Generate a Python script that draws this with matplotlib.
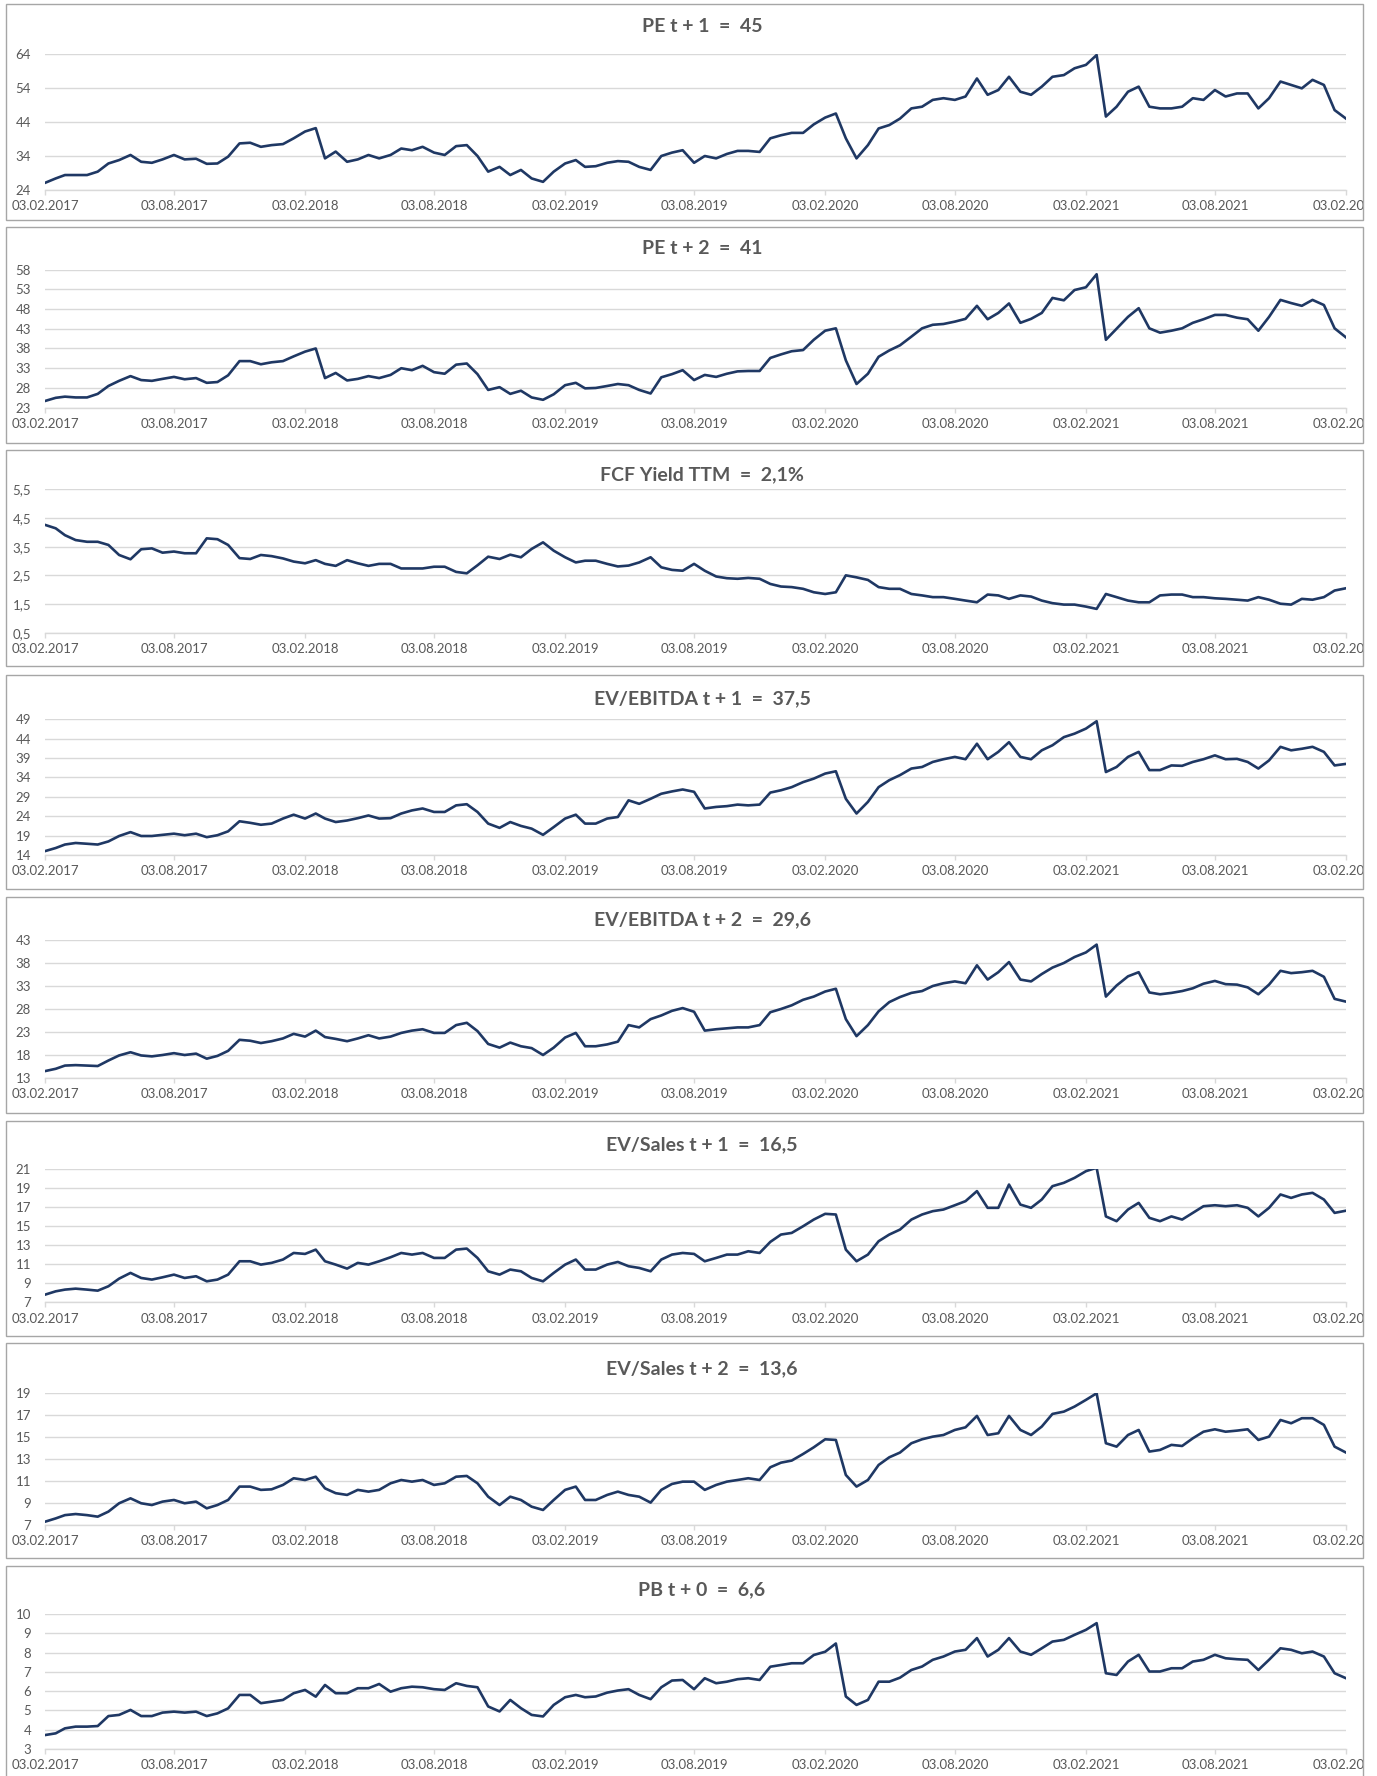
import matplotlib
matplotlib.use('Agg')
import matplotlib.pyplot as plt
from matplotlib.patches import Rectangle
from matplotlib.ticker import FixedLocator, FuncFormatter
import matplotlib.dates as mdates
import numpy as np
import pandas as pd

plt.rcParams['font.family'] = ['Lato', 'DejaVu Sans']

W, H = 1377, 1776

# semi-monthly observation dates, 03.02.2017 .. 03.02.2022
month_starts = pd.date_range('2017-02-03', periods=61, freq=pd.DateOffset(months=1))
dates = []
for d in month_starts:
    dates.append(d)
    dates.append(d + pd.Timedelta(days=15))
dates = dates[:121]

pe_t1 = [26.1, 27.4, 28.4, 28.4, 28.4, 29.4, 31.8, 32.8, 34.3, 32.3,
         32.0, 33.0, 34.3, 33.0, 33.2, 31.7, 31.8, 33.8, 37.7, 37.9,
         36.7, 37.2, 37.5, 39.2, 41.2, 42.2, 33.3, 35.3, 32.3, 33.0,
         34.3, 33.3, 34.3, 36.2, 35.7, 36.7, 35.0, 34.3, 36.9, 37.2,
         34.0, 29.4, 30.8, 28.4, 29.9, 27.4, 26.4, 29.4, 31.8, 32.8,
         30.8, 31.0, 32.0, 32.5, 32.3, 30.8, 29.9, 34.0, 35.0, 35.7,
         32.0, 34.0, 33.3, 34.6, 35.5, 35.5, 35.2, 39.2, 40.1, 40.8,
         40.8, 43.3, 45.3, 46.5, 39.2, 33.3, 37.2, 42.1, 43.1, 45.0,
         48.0, 48.5, 50.5, 51.0, 50.5, 51.5, 56.8, 52.0, 53.4, 57.3,
         52.9, 52.0, 54.4, 57.3, 57.8, 59.8, 60.8, 63.7, 45.6, 48.5,
         52.9, 54.4, 48.5, 48.0, 48.0, 48.5, 51.0, 50.5, 53.4, 51.5,
         52.4, 52.4, 48.0, 51.0, 55.9, 54.9, 53.9, 56.4, 54.9, 47.5, 45.0]

pe_t2 = [24.7, 25.5, 25.8, 25.6, 25.6, 26.5, 28.5, 29.8, 31.0, 30.0,
         29.8, 30.3, 30.8, 30.2, 30.5, 29.3, 29.5, 31.2, 34.8, 34.8,
         34.0, 34.5, 34.8, 36.0, 37.2, 38.0, 30.5, 31.8, 29.9, 30.3,
         31.0, 30.5, 31.3, 33.0, 32.5, 33.6, 32.0, 31.6, 33.9, 34.2,
         31.5, 27.5, 28.2, 26.5, 27.3, 25.6, 25.0, 26.4, 28.7, 29.3,
         27.9, 28.0, 28.5, 29.0, 28.7, 27.5, 26.6, 30.7, 31.5, 32.5,
         30.0, 31.3, 30.8, 31.6, 32.2, 32.3, 32.3, 35.6, 36.5, 37.3,
         37.6, 40.2, 42.5, 43.1, 35.0, 29.0, 31.6, 35.9, 37.5, 38.8,
         41.0, 43.1, 44.0, 44.2, 44.8, 45.5, 48.8, 45.4, 47.0, 49.4,
         44.5, 45.5, 47.0, 50.8, 50.2, 52.8, 53.5, 56.8, 40.2, 43.0,
         46.0, 48.2, 43.1, 42.0, 42.5, 43.1, 44.5, 45.4, 46.5, 46.5,
         45.8, 45.4, 42.5, 46.0, 50.3, 49.5, 48.8, 50.3, 49.0, 43.1, 40.8]

fcf_yield = [4.26, 4.14, 3.90, 3.73, 3.67, 3.67, 3.56, 3.21, 3.06, 3.41,
             3.44, 3.29, 3.33, 3.27, 3.27, 3.79, 3.76, 3.56, 3.10, 3.07,
             3.21, 3.17, 3.09, 2.98, 2.92, 3.03, 2.90, 2.83, 3.03, 2.92,
             2.83, 2.90, 2.90, 2.74, 2.74, 2.74, 2.80, 2.80, 2.62, 2.57,
             2.85, 3.15, 3.07, 3.22, 3.13, 3.42, 3.65, 3.36, 3.13, 2.95,
             3.01, 3.01, 2.90, 2.81, 2.84, 2.95, 3.13, 2.78, 2.69, 2.66,
             2.90, 2.66, 2.46, 2.40, 2.38, 2.41, 2.38, 2.20, 2.11, 2.09,
             2.03, 1.91, 1.85, 1.91, 2.50, 2.43, 2.34, 2.09, 2.03, 2.03,
             1.85, 1.80, 1.74, 1.74, 1.68, 1.62, 1.56, 1.83, 1.80, 1.68,
             1.80, 1.76, 1.62, 1.53, 1.48, 1.48, 1.41, 1.33, 1.85, 1.74,
             1.62, 1.56, 1.56, 1.80, 1.83, 1.83, 1.74, 1.74, 1.70, 1.68,
             1.65, 1.62, 1.74, 1.65, 1.51, 1.48, 1.68, 1.65, 1.74, 1.97, 2.05]

ev_ebitda_t1 = [15.0, 15.8, 16.7, 17.1, 16.9, 16.7, 17.5, 18.9, 19.9, 18.9,
                18.9, 19.2, 19.5, 19.1, 19.5, 18.6, 19.1, 20.1, 22.7, 22.3,
                21.8, 22.1, 23.4, 24.4, 23.4, 24.7, 23.4, 22.5, 22.9, 23.5,
                24.2, 23.4, 23.5, 24.7, 25.5, 26.0, 25.1, 25.1, 26.8, 27.1,
                25.1, 22.1, 21.0, 22.5, 21.5, 20.8, 19.2, 21.2, 23.4, 24.4,
                22.1, 22.1, 23.4, 23.8, 28.1, 27.2, 28.5, 29.8, 30.4, 30.9,
                30.3, 26.0, 26.4, 26.6, 27.0, 26.8, 27.0, 30.1, 30.7, 31.5,
                32.8, 33.7, 35.0, 35.6, 28.5, 24.7, 27.7, 31.5, 33.3, 34.6,
                36.3, 36.7, 38.0, 38.7, 39.3, 38.7, 42.7, 38.7, 40.6, 43.1,
                39.3, 38.7, 41.0, 42.3, 44.4, 45.3, 46.6, 48.5, 35.4, 36.7,
                39.3, 40.6, 35.9, 35.9, 37.1, 37.0, 38.0, 38.7, 39.7, 38.7,
                38.8, 38.0, 36.3, 38.4, 41.9, 41.0, 41.4, 41.9, 40.6, 37.1, 37.5]

ev_ebitda_t2 = [14.5, 15.0, 15.7, 15.8, 15.7, 15.6, 16.8, 17.9, 18.6, 17.9,
                17.7, 18.0, 18.4, 18.0, 18.3, 17.2, 17.8, 18.9, 21.3, 21.1,
                20.6, 21.0, 21.6, 22.6, 22.0, 23.3, 21.9, 21.5, 21.0, 21.6,
                22.3, 21.6, 22.0, 22.8, 23.3, 23.6, 22.8, 22.8, 24.5, 25.0,
                23.2, 20.4, 19.6, 20.7, 19.9, 19.5, 18.0, 19.6, 21.8, 22.8,
                19.9, 19.9, 20.3, 20.9, 24.5, 24.0, 25.8, 26.6, 27.6, 28.2,
                27.4, 23.3, 23.6, 23.8, 24.0, 24.0, 24.5, 27.3, 28.0, 28.8,
                30.0, 30.7, 31.8, 32.4, 25.8, 22.1, 24.5, 27.5, 29.5, 30.6,
                31.5, 31.9, 33.0, 33.6, 34.0, 33.6, 37.5, 34.4, 36.0, 38.2,
                34.4, 34.0, 35.6, 37.0, 38.0, 39.3, 40.3, 42.0, 30.7, 33.1,
                35.1, 36.0, 31.6, 31.2, 31.5, 31.9, 32.5, 33.5, 34.1, 33.4,
                33.3, 32.7, 31.2, 33.3, 36.3, 35.8, 36.0, 36.3, 35.0, 30.2, 29.6]

ev_sales_t1 = [7.80, 8.15, 8.33, 8.43, 8.33, 8.22, 8.68, 9.48, 10.08, 9.55,
               9.38, 9.62, 9.90, 9.55, 9.73, 9.20, 9.38, 9.90, 11.30, 11.30,
               10.95, 11.13, 11.48, 12.17, 12.07, 12.52, 11.30, 10.95, 10.53, 11.13,
               10.95, 11.30, 11.72, 12.17, 12.00, 12.17, 11.65, 11.65, 12.52, 12.63,
               11.65, 10.25, 9.90, 10.43, 10.25, 9.55, 9.20, 10.08, 10.95, 11.48,
               10.43, 10.43, 10.95, 11.23, 10.78, 10.60, 10.25, 11.48, 12.00, 12.17,
               12.07, 11.30, 11.65, 12.00, 12.00, 12.35, 12.17, 13.33, 14.10, 14.27,
               14.97, 15.67, 16.27, 16.20, 12.52, 11.30, 12.00, 13.40, 14.10, 14.62,
               15.67, 16.20, 16.55, 16.72, 17.17, 17.60, 18.65, 16.90, 16.90, 19.34,
               17.24, 16.90, 17.77, 19.17, 19.52, 20.04, 20.74, 21.10, 16.00, 15.50,
               16.72, 17.42, 15.85, 15.50, 16.00, 15.67, 16.37, 17.07, 17.17, 17.07,
               17.17, 16.90, 16.00, 16.90, 18.30, 17.94, 18.30, 18.47, 17.77, 16.37, 16.60]

ev_sales_t2 = [7.30, 7.60, 7.90, 8.00, 7.90, 7.76, 8.22, 8.98, 9.43, 8.98,
               8.82, 9.13, 9.28, 8.98, 9.13, 8.52, 8.82, 9.28, 10.50, 10.50,
               10.20, 10.25, 10.65, 11.26, 11.10, 11.40, 10.34, 9.90, 9.74, 10.20,
               10.04, 10.20, 10.80, 11.10, 10.95, 11.10, 10.65, 10.80, 11.40, 11.47,
               10.80, 9.58, 8.82, 9.58, 9.28, 8.67, 8.37, 9.28, 10.20, 10.50,
               9.28, 9.28, 9.74, 10.04, 9.74, 9.58, 9.04, 10.20, 10.74, 10.95,
               10.95, 10.20, 10.65, 10.95, 11.10, 11.26, 11.10, 12.26, 12.68, 12.87,
               13.47, 14.08, 14.81, 14.75, 11.56, 10.50, 11.10, 12.47, 13.17, 13.60,
               14.45, 14.81, 15.05, 15.20, 15.66, 15.90, 16.94, 15.20, 15.36, 16.94,
               15.66, 15.20, 15.97, 17.12, 17.33, 17.79, 18.40, 19.00, 14.45, 14.14,
               15.20, 15.66, 13.69, 13.84, 14.30, 14.20, 14.90, 15.50, 15.72, 15.50,
               15.60, 15.72, 14.75, 15.05, 16.57, 16.27, 16.73, 16.73, 16.12, 14.14, 13.60]

pb_t0 = [3.71, 3.80, 4.06, 4.15, 4.15, 4.18, 4.70, 4.76, 5.02, 4.70,
         4.70, 4.88, 4.93, 4.88, 4.93, 4.70, 4.84, 5.10, 5.80, 5.80,
         5.37, 5.45, 5.54, 5.89, 6.06, 5.71, 6.32, 5.89, 5.89, 6.15,
         6.15, 6.37, 5.97, 6.15, 6.23, 6.20, 6.10, 6.06, 6.41, 6.27,
         6.20, 5.20, 4.94, 5.54, 5.11, 4.76, 4.68, 5.28, 5.68, 5.80,
         5.68, 5.72, 5.92, 6.03, 6.10, 5.80, 5.58, 6.20, 6.55, 6.58,
         6.10, 6.67, 6.41, 6.49, 6.62, 6.67, 6.58, 7.27, 7.36, 7.45,
         7.45, 7.88, 8.05, 8.48, 5.72, 5.28, 5.54, 6.49, 6.49, 6.70,
         7.10, 7.28, 7.63, 7.80, 8.06, 8.15, 8.76, 7.80, 8.15, 8.76,
         8.06, 7.89, 8.23, 8.58, 8.67, 8.93, 9.19, 9.54, 6.93, 6.84,
         7.54, 7.89, 7.02, 7.02, 7.19, 7.19, 7.54, 7.63, 7.89, 7.71,
         7.66, 7.63, 7.10, 7.63, 8.23, 8.15, 7.97, 8.06, 7.80, 6.93, 6.67]

titles = ['PE t + 1  =  45', 'PE t + 2  =  41', 'FCF Yield TTM  =  2,1%',
          'EV/EBITDA t + 1  =  37,5', 'EV/EBITDA t + 2  =  29,6',
          'EV/Sales t + 1  =  16,5', 'EV/Sales t + 2  =  13,6', 'PB t + 0  =  6,6']
series = [pe_t1, pe_t2, fcf_yield, ev_ebitda_t1, ev_ebitda_t2,
          ev_sales_t1, ev_sales_t2, pb_t0]
y_min = [24, 23, 0.5, 14, 13, 7, 7, 3]
y_max = [64, 58, 5.5, 49, 43, 21, 19, 10]
y_step = [10, 5, 1, 5, 5, 2, 2, 1]

# layout in pixels: panel box (top, bottom), plot area (top, bottom), title y
box_tb = [(4, 220), (227, 443), (450, 666), (675, 889), (897, 1113),
          (1121, 1336), (1343, 1558), (1566, 1790)]
plot_tb = [(54, 190), (269.5, 407.7), (489.3, 632.7), (719.3, 855),
           (940, 1078), (1168.7, 1302.3), (1393.3, 1525), (1614.3, 1748.7)]
title_y = [27, 248, 475, 699, 919.5, 1145, 1369, 1590]
box_l, box_r = 6, 1363
plot_l, plot_r = 45, 1346

line_col = '#1f3864'
grid_col = '#d9d9d9'
text_col = '#595959'

tick_dates = [pd.Timestamp(2017, 2, 3) + pd.DateOffset(months=6 * k) for k in range(11)]

fig = plt.figure(figsize=(W / 100, H / 100), dpi=100)


def fmt_num(v, pos=None):
    return ('%g' % round(v, 2)).replace('.', ',')


for k in range(8):
    top, bot = plot_tb[k]
    ax = fig.add_axes([plot_l / W, 1 - bot / H, (plot_r - plot_l) / W, (bot - top) / H])
    ax.plot(dates, series[k], color=line_col, lw=1.9, solid_joinstyle='round')
    ax.set_xlim(tick_dates[0], tick_dates[-1])
    ax.set_ylim(y_min[k], y_max[k])
    yt = np.arange(y_min[k], y_max[k] + y_step[k] / 2, y_step[k])
    ax.yaxis.set_major_locator(FixedLocator(yt))
    ax.yaxis.set_major_formatter(FuncFormatter(fmt_num))
    ax.set_xticks(tick_dates)
    ax.xaxis.set_major_formatter(mdates.DateFormatter('%d.%m.%Y'))
    ax.grid(axis='y', color=grid_col, lw=1.0)
    ax.set_axisbelow(True)
    for s in ['top', 'right', 'left']:
        ax.spines[s].set_visible(False)
    ax.spines['bottom'].set_color(grid_col)
    ax.spines['bottom'].set_linewidth(1.0)
    ax.tick_params(axis='y', length=0, pad=10, labelsize=9.5, labelcolor=text_col)
    ax.tick_params(axis='x', length=3.5, width=1.0, color=grid_col, pad=4,
                   labelsize=9.5, labelcolor=text_col)
    fig.text(702 / W, 1 - title_y[k] / H, titles[k], ha='center', va='center',
             fontsize=14, fontweight='bold', color=text_col)

# white strip to clip labels running past the panel boxes
fig.add_artist(Rectangle((box_r / W, 0), 1 - box_r / W, 1, transform=fig.transFigure,
                         facecolor='white', edgecolor='none', zorder=20))
for top, bot in box_tb:
    fig.add_artist(Rectangle((box_l / W, 1 - bot / H), (box_r - box_l) / W, (bot - top) / H,
                             transform=fig.transFigure, facecolor='none',
                             edgecolor='#a6a6a6', lw=1.0, zorder=21))

fig.savefig('out.png', dpi=100)
